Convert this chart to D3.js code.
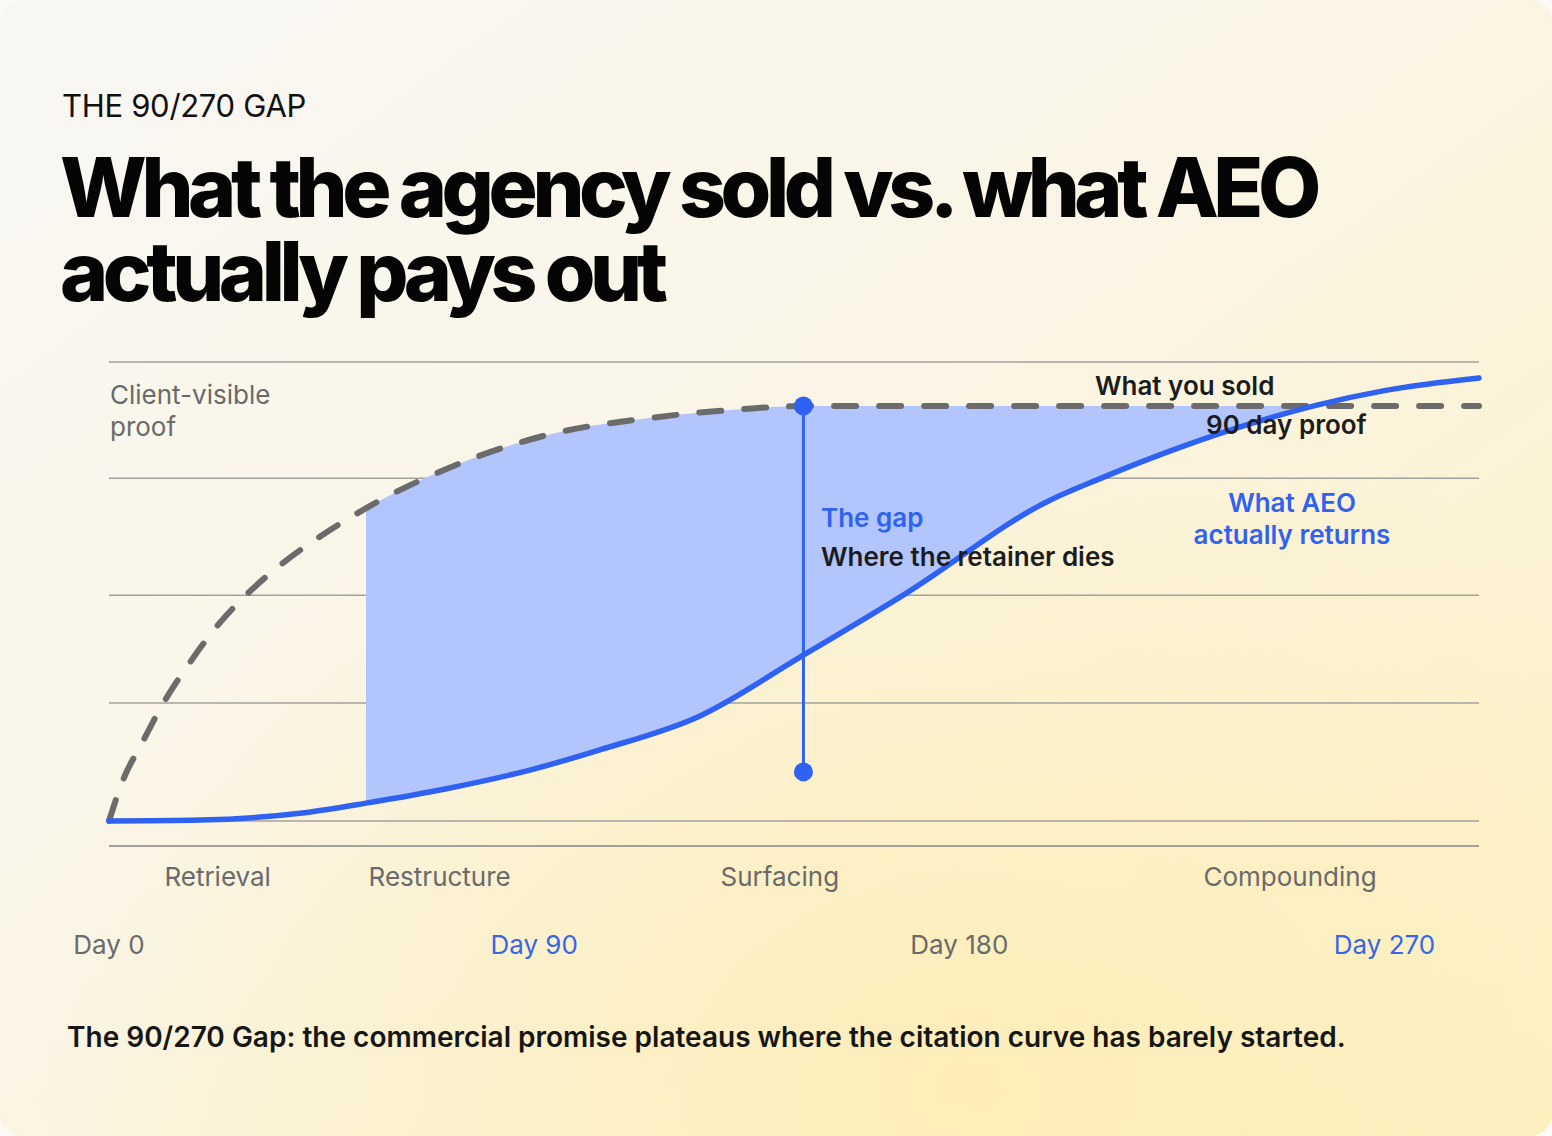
<!DOCTYPE html>
<html>
<head>
<meta charset="utf-8">
<script src="https://cdn.jsdelivr.net/npm/d3@7"></script>
<style>
  html, body { margin: 0; padding: 0; background: #ffffff; }
  svg { display: block; }
  text { font-family: Inter, "Noto Sans", sans-serif; }
</style>
</head>
<body>
<svg id="chart" width="1552" height="1136"></svg>
<script>
// ---------- DATA ----------
const eyebrow = "THE 90/270 GAP";
const titleLines = ["What the agency sold vs. what AEO", "actually pays out"];
const caption = "The 90/270 Gap: the commercial promise plateaus where the citation curve has barely started.";

// "What you sold" — client-visible proof curve (day, value 0-100)
const soldDays   = [0, 3, 7, 11.4, 17.1, 22.9, 29.8, 36.8, 44.7, 52.5, 61, 69.4, 78.5, 94.4, 114.5, 133.6, 147, 290];
const soldValues = [0, 9, 17, 25.5, 34.5, 42.5, 50, 56.2, 62, 67, 71.8, 75.8, 79.6, 84.5, 87.8, 89.7, 90.4, 90.4];

// "What AEO actually returns" — citation curve
const actualDays   = [0, 19.3, 40.4, 54.4, 72.2, 89.1, 103.9, 125.1, 146.3, 168.9, 199.2, 209.8, 227.3, 241.5, 255.7, 269.7, 290];
const actualValues = [0, 0.2, 1.7, 3.9, 7.2, 11.1, 15.5, 22.9, 35.7, 49.7, 69.9, 74.6, 81.6, 86.5, 90.6, 93.7, 96.5];

const gapStartDay = 54.4;          // shaded gap begins
const gapMarker = { day: 147, top: 90.4, bottom: 10.7 };

const gridValues = [0, 25.7, 49.2, 74.7, 100];
const dayTicks = [0, 90, 180, 270];
const dayLabels = ["Day 0", "Day 90", "Day 180", "Day 270"];
const dayHighlight = [false, true, false, true];
const phaseDays = [23, 70, 142, 250];
const phaseLabels = ["Retrieval", "Restructure", "Surfacing", "Compounding"];

// ---------- SETUP ----------
const W = 1552, H = 1136;
const svg = d3.select("#chart");
const defs = svg.append("defs");

const BLUE = "#2f62f0";
const FILL = "#b2c5fc";
const GREY_LINE = "#6b6b6b";
const GRID = "#a3a19c";
const MUTED = "#6a6a6a";
const INK = "#1c1c1c";

// background
const lg = defs.append("linearGradient").attr("id", "bg").attr("x1", "0").attr("y1", "0").attr("x2", "1").attr("y2", "1");
lg.append("stop").attr("offset", "0").attr("stop-color", "#f8f7f3");
lg.append("stop").attr("offset", "0.45").attr("stop-color", "#faf5e6");
lg.append("stop").attr("offset", "1").attr("stop-color", "#fdf0c4");
const rg = defs.append("radialGradient").attr("id", "glow").attr("cx", "0.62").attr("cy", "0.95").attr("r", "0.6");
rg.append("stop").attr("offset", "0").attr("stop-color", "#fdecb0").attr("stop-opacity", 0.75);
rg.append("stop").attr("offset", "1").attr("stop-color", "#fdecb0").attr("stop-opacity", 0);

svg.append("rect").attr("width", W).attr("height", H).attr("fill", "#fbfaf7");
svg.append("rect").attr("width", W).attr("height", H).attr("rx", 22).attr("fill", "url(#bg)");
svg.append("rect").attr("width", W).attr("height", H).attr("rx", 22).attr("fill", "url(#glow)");

// scales
const x = d3.scaleLinear().domain([0, 290]).range([109, 1479]);
const y = d3.scaleLinear().domain([0, 100]).range([821, 362]);

// ---------- HEADER ----------
svg.append("text").attr("x", 62).attr("y", 117)
  .attr("font-size", 31).attr("font-weight", 400).attr("fill", "#111")
  .attr("letter-spacing", -0.3)
  .text(eyebrow);

svg.append("g").selectAll("text").data(titleLines).join("text")
  .attr("x", 60).attr("y", (d, i) => 217 + i * 84)
  .attr("font-size", 82).attr("font-weight", 800).attr("fill", "#050505")
  .attr("letter-spacing", -5.4)
  .text(d => d);

// ---------- GRID ----------
svg.append("g").selectAll("line").data(gridValues).join("line")
  .attr("x1", x(0)).attr("x2", x(290))
  .attr("y1", d => y(d)).attr("y2", d => y(d))
  .attr("stroke", GRID).attr("stroke-width", 1.5);

svg.append("line").attr("x1", x(0)).attr("x2", x(290))
  .attr("y1", 846).attr("y2", 846).attr("stroke", GRID).attr("stroke-width", 2);

// ---------- GAP FILL ----------
const sold = soldDays.map((d, i) => [d, soldValues[i]]);
const actual = actualDays.map((d, i) => [d, actualValues[i]]);
const curve = d3.curveMonotoneX;

defs.append("clipPath").attr("id", "belowSold").append("path")
  .attr("d", d3.area().x(d => x(d[0])).y0(y(0) + 40).y1(d => y(d[1])).curve(curve)(sold));
defs.append("clipPath").attr("id", "afterStart").append("rect")
  .attr("x", x(gapStartDay)).attr("y", 0).attr("width", W).attr("height", H);

svg.append("g").attr("clip-path", "url(#afterStart)")
  .append("path")
  .attr("clip-path", "url(#belowSold)")
  .attr("d", d3.area().x(d => x(d[0])).y0(y(100) - 40).y1(d => y(d[1])).curve(curve)(actual))
  .attr("fill", FILL);

// ---------- LINES ----------
svg.append("path")
  .attr("d", d3.line().x(d => x(d[0])).y(d => y(d[1])).curve(curve)(sold))
  .attr("fill", "none").attr("stroke", GREY_LINE).attr("stroke-width", 6)
  .attr("stroke-linecap", "round").attr("stroke-dasharray", "22 23");

svg.append("path")
  .attr("d", d3.line().x(d => x(d[0])).y(d => y(d[1])).curve(curve)(actual))
  .attr("fill", "none").attr("stroke", BLUE).attr("stroke-width", 5.5)
  .attr("stroke-linecap", "round");

// ---------- GAP MARKER ----------
const gm = svg.append("g");
gm.append("line")
  .attr("x1", x(gapMarker.day)).attr("x2", x(gapMarker.day))
  .attr("y1", y(gapMarker.top)).attr("y2", y(gapMarker.bottom))
  .attr("stroke", BLUE).attr("stroke-width", 3);
gm.selectAll("circle").data([gapMarker.top, gapMarker.bottom]).join("circle")
  .attr("cx", x(gapMarker.day)).attr("cy", d => y(d)).attr("r", 9.5).attr("fill", BLUE);

// ---------- ANNOTATIONS ----------
const lab = (t, xx, yy, opts = {}) => svg.append("text")
  .attr("x", xx).attr("y", yy)
  .attr("font-size", opts.size || 26)
  .attr("font-weight", opts.weight || 400)
  .attr("fill", opts.fill || INK)
  .attr("text-anchor", opts.anchor || "start")
  .text(t);

lab("Client-visible", 110, 404, { fill: MUTED });
lab("proof", 110, 436, { fill: MUTED });

lab("What you sold", 1095, 395, { weight: 600 });
lab("90 day proof", 1206, 434, { weight: 600 });

lab("What AEO", 1292, 512, { weight: 600, fill: BLUE, anchor: "middle" });
lab("actually returns", 1292, 544, { weight: 600, fill: BLUE, anchor: "middle" });

lab("The gap", 821, 527, { weight: 600, fill: BLUE });
lab("Where the retainer dies", 821, 566, { weight: 600 });

// phase labels
svg.append("g").selectAll("text").data(phaseLabels).join("text")
  .attr("x", (d, i) => x(phaseDays[i])).attr("y", 886)
  .attr("text-anchor", "middle").attr("font-size", 26).attr("fill", MUTED)
  .text(d => d);

// day labels
svg.append("g").selectAll("text").data(dayTicks).join("text")
  .attr("x", d => x(d)).attr("y", 954)
  .attr("text-anchor", "middle").attr("font-size", 26)
  .attr("fill", (d, i) => dayHighlight[i] ? "#3567e6" : MUTED)
  .text((d, i) => dayLabels[i]);

// caption
svg.append("text").attr("x", 67).attr("y", 1047)
  .attr("font-size", 28).attr("font-weight", 600).attr("fill", "#161616")
  .text(caption);
</script>
</body>
</html>
